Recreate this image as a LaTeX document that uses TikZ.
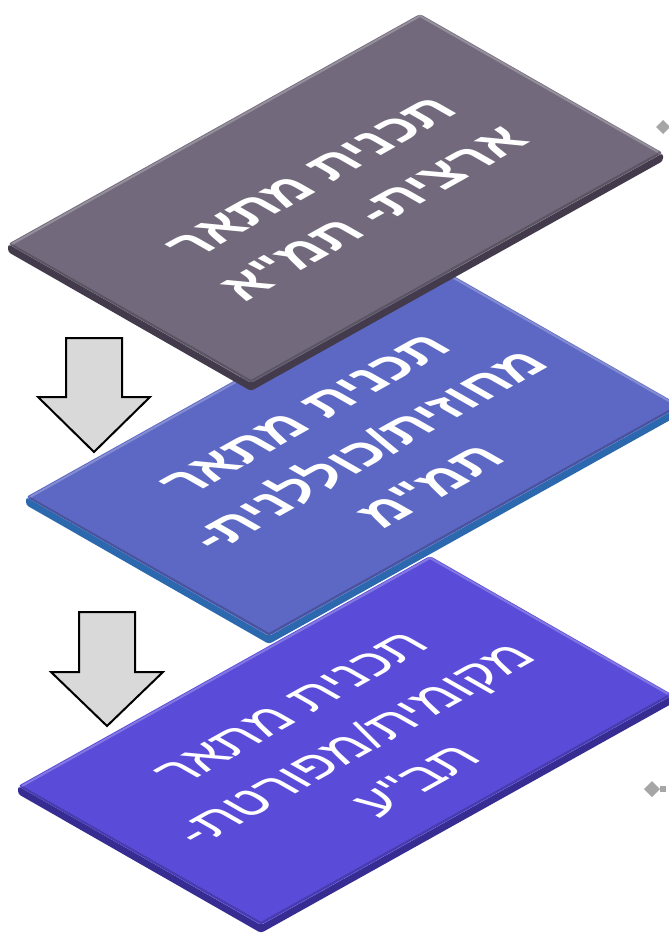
\documentclass[tikz,border=0pt]{standalone}
\usepackage{fontspec}
\newfontfamily\hebfont[Script=Hebrew]{Liberation Sans}
\TeXXeTstate=1
\definecolor{natface}{HTML}{726A7C}
\definecolor{natside}{HTML}{433B4B}
\definecolor{disface}{HTML}{5C68C4}
\definecolor{disside}{HTML}{2B68AE}
\definecolor{locface}{HTML}{5A4BD9}
\definecolor{locside}{HTML}{372C92}
\definecolor{arrowgray}{HTML}{D9D9D9}
\definecolor{markgray}{HTML}{A6A6A6}

\begin{document}
\begin{tikzpicture}[x=1pt,y=-1pt,
    slabtext/.style={text=white, font=\hebfont\bfseries\fontsize{54}{72}\selectfont, align=center,
      rotate=29.2, yscale=0.857, xslant=-0.516, inner sep=0pt},
    downarrow/.style={fill=arrowgray, draw=black, line width=2pt, line join=miter},
    hilite/.style={white, opacity=0.25, line width=2pt},
    lowlite/.style={black, opacity=0.2, line width=2pt},
    endmark/.style={fill=markgray}]
      \useasboundingbox (0,0) rectangle (669,934);
      % local plan
      \fill[locside, rounded corners=3pt] (18,786) -- ++(243,139) -- ++(412,-230) -- ++(0,8) -- ++(-412,230) -- ++(-243,-139) -- cycle;
      \fill[locface, rounded corners=3pt] (18,786) -- ++(243,139) -- ++(412,-230) -- ++(-243,-139) -- cycle;
      \draw[hilite] (22,786) -- ++(408,-228) -- ++(238,136);
      \draw[lowlite] (22,787) -- ++(239,136) -- ++(407,-227);
      \node[slabtext, font=\hebfont\fontsize{54}{72}\selectfont] (taba) at (355,745) {\beginR תכנית מתאר\endR\\\beginR מקומית/מפורטת-\endR\\\beginR תב"ע\endR};
      % district plan
      \fill[disside, rounded corners=3pt] (26,497) -- ++(243,139) -- ++(412,-230) -- ++(0,8) -- ++(-412,230) -- ++(-243,-139) -- cycle;
      \fill[disface, rounded corners=3pt] (26,497) -- ++(243,139) -- ++(412,-230) -- ++(-243,-139) -- cycle;
      \draw[hilite] (30,497) -- ++(408,-228) -- ++(238,136);
      \draw[lowlite] (30,498) -- ++(239,136) -- ++(407,-227);
      \node[slabtext] (tamam) at (369,451) {\beginR תכנית מתאר\endR\\\beginR מחוזית/כוללנית-\endR\\\beginR תמ"מ\endR};
      % national plan
      \fill[natside, rounded corners=3pt] (8,244) -- ++(243,139) -- ++(412,-230) -- ++(0,8) -- ++(-412,230) -- ++(-243,-139) -- cycle;
      \fill[natface, rounded corners=3pt] (8,244) -- ++(243,139) -- ++(412,-230) -- ++(-243,-139) -- cycle;
      \draw[hilite] (12,244) -- ++(408,-228) -- ++(238,136);
      \draw[lowlite] (12,245) -- ++(239,136) -- ++(407,-227);
      \node[slabtext] (tama) at (343,196) {\beginR תכנית מתאר\endR\\\beginR ארצית- תמ"א\endR};
      % arrows
      \draw[downarrow] (66,338) -- (122,338) -- (122,397) -- (150,397) -- (94,452) -- (38,397) -- (66,397) -- cycle;
      \draw[downarrow] (79,612) -- (135,612) -- (135,672) -- (163,672) -- (107,726) -- (51,672) -- (79,672) -- cycle;
      % cut-off connector ends
      \fill[endmark] (656,127) -- (663,120) -- (670,127) -- (663,134) -- cycle;
      \fill[endmark] (644,789) -- (652,781) -- (660,789) -- (652,797) -- cycle;
      \fill[endmark] (660,786) rectangle (666,792);
\end{tikzpicture}
\end{document}
